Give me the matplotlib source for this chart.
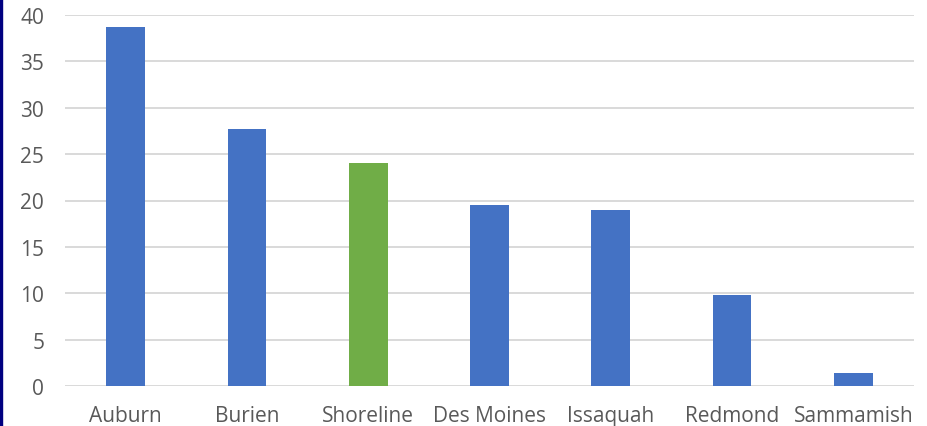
import matplotlib.pyplot as plt
from matplotlib.patches import Rectangle

cities = ["Auburn", "Burien", "Shoreline", "Des Moines", "Issaquah", "Redmond", "Sammamish"]
values = [38.7, 27.7, 24.0, 19.5, 19.0, 9.8, 1.4]
highlight = "Shoreline"

blue = "#4472C4"
green = "#70AD47"
txt = "#595959"

plt.rcParams['font.family'] = ['Open Sans', 'DejaVu Sans']

fig = plt.figure(figsize=(9.27, 4.27), dpi=100)
ax = fig.add_axes([65/927, 1-387/427, 849/927, 371/427])

colors = [green if c == highlight else blue for c in cities]
x = range(len(cities))
ax.bar(x, values, width=0.32, color=colors, zorder=3)

ax.set_xlim(-0.5, len(cities)-0.5)
ax.set_ylim(0, 40)
ax.set_yticks(range(0, 41, 5))
ax.set_xticks(list(x))
ax.set_xticklabels(cities)
ax.grid(axis='y', color='#D9D9D9', linewidth=1.4, zorder=0)
for s in ax.spines.values():
    s.set_visible(False)
ax.tick_params(length=0, labelsize=15, colors=txt)
ax.tick_params(axis='y', pad=15)
ax.tick_params(axis='x', pad=14)

# dark border on the left edge
fig.patches.append(Rectangle((0, 0), 2/927, 1, transform=fig.transFigure, color="#000080"))

fig.savefig("out.png", dpi=100)
